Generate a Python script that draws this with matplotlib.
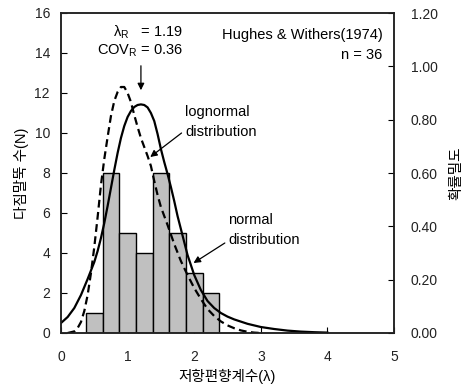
import matplotlib
matplotlib.use("Agg")
import matplotlib.pyplot as plt

plt.rcParams['font.family'] = ['Liberation Sans', 'Noto Sans CJK KR', 'DejaVu Sans']
plt.rcParams['mathtext.fontset'] = 'custom'
plt.rcParams['mathtext.rm'] = 'Liberation Sans'

# Histogram data
bin_centers = [0.5, 0.75, 1.0, 1.25, 1.5, 1.75, 2.0, 2.25]
counts = [1, 8, 5, 4, 8, 5, 3, 2]
bin_width = 0.25

# Solid curve ("normal distribution"), in count units
solid_x = [0.0, 0.1, 0.2, 0.3, 0.4, 0.5, 0.55, 0.6, 0.65, 0.7, 0.75, 0.8, 0.85, 0.9,
           0.95, 1.0, 1.05, 1.1, 1.15, 1.2, 1.25, 1.3, 1.35, 1.4, 1.45, 1.5, 1.55,
           1.6, 1.65, 1.7, 1.75, 1.8, 1.85, 1.9, 1.95, 2.0, 2.1, 2.2, 2.3, 2.4,
           2.5, 2.6, 2.8, 3.0, 3.2, 3.4, 3.6, 3.8, 4.0]
solid_y = [0.5, 0.8, 1.25, 1.9, 2.7, 3.55, 4.1, 4.75, 5.5, 6.35, 7.25, 8.15, 9.0, 9.75,
           10.35, 10.8, 11.1, 11.3, 11.4, 11.43, 11.4, 11.28, 11.0, 10.6, 9.95, 9.2, 8.55,
           7.95, 7.3, 6.6, 5.85, 5.2, 4.55, 3.9, 3.4, 2.9, 2.15, 1.6, 1.25, 1.0,
           0.82, 0.68, 0.46, 0.3, 0.2, 0.12, 0.07, 0.04, 0.02]

# Dashed curve ("lognormal distribution"), in count units
dash_x = [0.1, 0.2, 0.25, 0.3, 0.35, 0.4, 0.45, 0.5, 0.55, 0.6, 0.65, 0.7, 0.75, 0.8,
          0.85, 0.9, 0.95, 1.0, 1.05, 1.1, 1.15, 1.2, 1.25, 1.3, 1.35, 1.4, 1.45,
          1.5, 1.6, 1.7, 1.8, 1.9, 2.0, 2.1, 2.2, 2.3, 2.4, 2.5, 2.6, 2.7, 2.8,
          2.9, 3.0]
dash_y = [0.0, 0.08, 0.25, 0.55, 1.1, 1.9, 3.0, 4.3, 5.8, 7.4, 8.7, 9.8, 10.85, 11.6,
          12.05, 12.3, 12.3, 12.0, 11.55, 10.9, 10.3, 9.75, 9.3, 8.85, 8.35, 7.6, 6.9,
          6.3, 5.4, 4.45, 3.6, 2.9, 2.25, 1.7, 1.2, 0.85, 0.58, 0.38, 0.24, 0.13, 0.06,
          0.02, 0.0]

x_ticks = [0, 1, 2, 3, 4, 5]
y_ticks = [0, 2, 4, 6, 8, 10, 12, 14, 16]
y2_ticks = [0.0, 0.2, 0.4, 0.6, 0.8, 1.0, 1.2]

fig = plt.figure(figsize=(4.65, 3.92), dpi=100)
ax = fig.add_axes([61/465, 1-333/392, (394-61)/465, (333-13)/392])

ax.bar(bin_centers, counts, width=bin_width, color='#c0c0c0', edgecolor='black',
       linewidth=1.0, zorder=2)
ax.plot(solid_x, solid_y, color='black', lw=1.6, zorder=3, solid_joinstyle='round')
ax.plot(dash_x, dash_y, color='black', lw=1.6, dashes=(3.5, 2.0), zorder=3)

ax.set_xlim(0, 5)
ax.set_ylim(0, 16)
ax.set_xticks(x_ticks)
ax.set_yticks(y_ticks)
ax.tick_params(axis='x', direction='in', length=4, pad=12, labelsize=10, labelcolor='#222222')
ax.tick_params(axis='y', direction='in', length=4, pad=8, labelsize=10, labelcolor='#222222')
for s in ax.spines.values():
    s.set_linewidth(1.1)
    s.set_color('#222222')

ax2 = ax.twinx()
ax2.set_ylim(0, 1.2)
ax2.set_yticks(y2_ticks)
ax2.set_yticklabels([f"{v:.2f}" for v in y2_ticks])
ax2.tick_params(axis='y', direction='in', length=4, pad=12, labelsize=10, labelcolor='#222222')
for s in ax2.spines.values():
    s.set_linewidth(1.1)
    s.set_color('#222222')

ax.set_xlabel('저항편향계수(λ)', fontsize=10.5, labelpad=4)
ax.set_ylabel('다짐말뚝 수(N)', fontsize=10.5, labelpad=4)
ax2.set_ylabel('확률밀도', fontsize=10.5, rotation=90, labelpad=8)

ax.text(1.83, 15.05, 'λ$_\\mathrm{R}$   = 1.19', ha='right', va='center', fontsize=10.5)
ax.text(1.83, 14.1, 'COV$_\\mathrm{R}$ = 0.36', ha='right', va='center', fontsize=10.5)
ax.annotate('', xy=(1.2, 12.0), xytext=(1.2, 13.5),
            arrowprops=dict(arrowstyle='-|>', color='black', lw=0.9, mutation_scale=10))

ax.text(4.83, 14.9, 'Hughes & Withers(1974)', ha='right', va='center', fontsize=10.5)
ax.text(4.83, 13.9, 'n = 36', ha='right', va='center', fontsize=10.5)

ax.text(1.86, 11.05, 'lognormal', ha='left', va='center', fontsize=10.5)
ax.text(1.86, 10.05, 'distribution', ha='left', va='center', fontsize=10.5)
ax.annotate('', xy=(1.34, 8.8), xytext=(1.81, 10.0),
            arrowprops=dict(arrowstyle='-|>', color='black', lw=0.9, mutation_scale=10,
                            shrinkA=0, shrinkB=0))

ax.text(2.51, 5.65, 'normal', ha='left', va='center', fontsize=10.5)
ax.text(2.51, 4.65, 'distribution', ha='left', va='center', fontsize=10.5)
ax.annotate('', xy=(1.99, 3.5), xytext=(2.46, 4.5),
            arrowprops=dict(arrowstyle='-|>', color='black', lw=0.9, mutation_scale=10,
                            shrinkA=0, shrinkB=0))

fig.savefig('out.png', dpi=100)
